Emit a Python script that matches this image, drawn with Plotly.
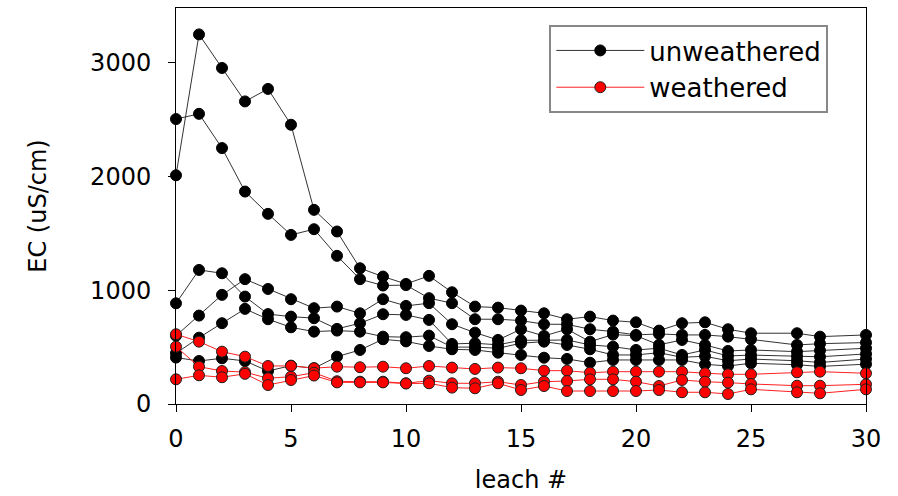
import plotly.graph_objects as go

leach = [0, 1, 2, 3, 4, 5, 6, 7, 8, 9, 10, 11, 12, 13, 14, 15, 16, 17, 18, 19,
         20, 21, 22, 23, 24, 25, 27, 28, 30]

# unweathered EC (uS/cm)
unw_1 = [2010, 3248, 2953, 2659, 2769, 2454, 1706, 1516, 1193, 1120, 1055, 1126, 982, 856, 847,
         821, 797, 745, 768, 733, 718, 645, 710, 718, 657, 622, 622, 592, 607]
unw_2 = [2504, 2550, 2249, 1867, 1671, 1486, 1536, 1302, 1097, 1041, 1045, 930, 886, 745, 745,
         733, 701, 700, 657, 636, 607, 616, 607, 607, 592, 569, 519, 530, 540]
unw_3 = [885, 1178, 1149, 944, 790, 768, 754, 660, 710, 789, 783, 739, 528, 534, 520,
         560, 560, 563, 519, 504, 475, 490, 431, 475, 422, 430, 420, 415, 440]
unw_4 = [600, 777, 959, 1097, 1011, 921, 842, 856, 797, 921, 862, 886, 701, 627, 563,
         657, 598, 657, 548, 610, 600, 520, 563, 519, 466, 475, 460, 470, 490]
unw_5 = [446, 583, 710, 836, 745, 674, 636, 645, 636, 592, 587, 601, 500, 500, 490,
         534, 548, 519, 481, 431, 431, 451, 410, 420, 380, 395, 380, 365, 395]
unw_6 = [408, 378, 402, 378, 290, 337, 314, 416, 475, 569, 550, 510, 481, 475, 451,
         431, 407, 396, 363, 387, 387, 387, 387, 349, 334, 358, 345, 330, 350]

# weathered EC (uS/cm)
wea_1 = [613, 548, 460, 416, 334, 335, 315, 328, 323, 328, 314, 334, 320, 308, 320,
         314, 293, 293, 275, 284, 284, 284, 284, 270, 261, 261, 279, 284, 270]
wea_2 = [504, 328, 290, 280, 226, 240, 275, 200, 196, 196, 182, 205, 182, 182, 196,
         167, 196, 202, 217, 217, 196, 158, 211, 196, 188, 176, 161, 161, 173]
wea_3 = [217, 252, 235, 265, 167, 211, 250, 190, 190, 190, 180, 182, 144, 138, 182,
         123, 158, 114, 114, 114, 114, 123, 103, 103, 88, 129, 103, 94, 129]

unweathered = [unw_1, unw_2, unw_3, unw_4, unw_5, unw_6]
weathered = [wea_1, wea_2, wea_3]

FONT = "DejaVu Sans"
fig = go.Figure()

for i, ys in enumerate(unweathered):
    fig.add_trace(go.Scatter(
        x=leach, y=ys, mode="lines+markers", name="unweathered",
        legendgroup="unw", showlegend=(i == 0), cliponaxis=False,
        line=dict(color="#333333", width=1),
        marker=dict(color="black", size=11, line=dict(color="black", width=1)),
    ))

for i, ys in enumerate(weathered):
    fig.add_trace(go.Scatter(
        x=leach, y=ys, mode="lines+markers", name="weathered",
        legendgroup="wea", showlegend=(i == 0), cliponaxis=False,
        line=dict(color="#ff2020", width=1),
        marker=dict(color="#ff0000", size=11, line=dict(color="#202020", width=1)),
    ))

fig.update_layout(
    width=898, height=496,
    margin=dict(l=176, r=32, t=8, b=92, autoexpand=False),
    plot_bgcolor="white", paper_bgcolor="white",
    font=dict(family=FONT, size=24, color="black"),
    showlegend=True,
    legend=dict(
        x=0.541, y=0.957, xanchor="left", yanchor="top",
        bgcolor="white", bordercolor="#888888", borderwidth=2,
        font=dict(family=FONT, size=26, color="black"),
        itemwidth=88, tracegroupgap=0,
    ),
)

fig.update_xaxes(
    range=[0, 30], tickvals=[0, 5, 10, 15, 20, 25, 30],
    showline=True, linecolor="black", linewidth=1, mirror=True,
    ticks="outside", ticklen=7, tickcolor="black",
    showgrid=False, zeroline=False, automargin=False,
    tickfont=dict(family=FONT, size=24),
    ticklabelstandoff=6,
    title=dict(text="leach #", font=dict(family=FONT, size=24), standoff=19),
)
fig.update_yaxes(
    range=[0, 3480], tickvals=[0, 1000, 2000, 3000],
    showline=True, linecolor="black", linewidth=1, mirror=True,
    ticks="outside", ticklen=7, tickcolor="black",
    showgrid=False, zeroline=False, automargin=False,
    tickfont=dict(family=FONT, size=24),
    ticklabelstandoff=12,
    title=dict(text="EC (uS/cm)", font=dict(family=FONT, size=24), standoff=36),
)

fig.write_html("out.html", config={"displayModeBar": False},
               post_script="document.body.style.margin='0';")
